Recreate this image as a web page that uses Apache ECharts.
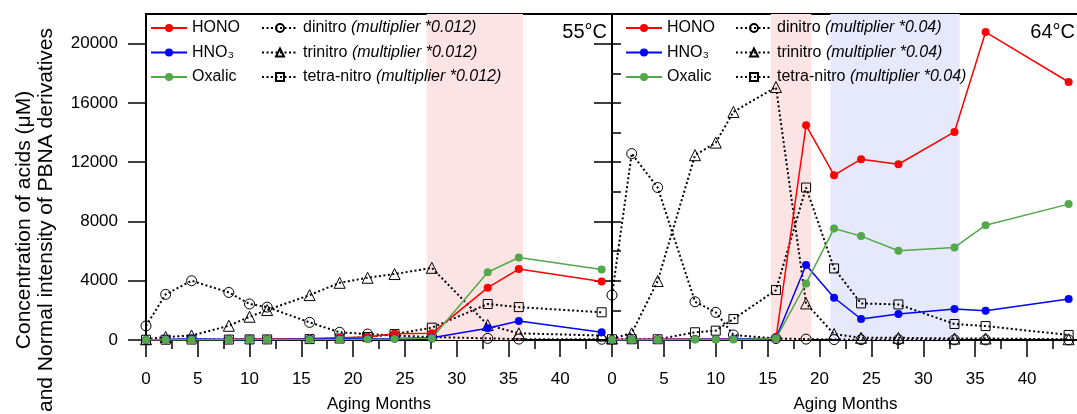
<!DOCTYPE html>
<html>
<head>
  <meta charset="UTF-8">
  <title>PBNA aging</title>
  <script src="https://cdn.jsdelivr.net/npm/echarts@6/dist/echarts.min.js"></script>
  <style>
    html, body { margin: 0; padding: 0; background: #fff; }
    #main { width: 1077px; height: 414px; }
  </style>
</head>
<body>
<div id="main"></div>
<script>
  // aging time (months), same sampling for both panels
  var months = [0, 1.9, 4.4, 8, 10, 11.7, 15.8, 18.7, 21.4, 24, 27.6, 33, 36, 44];

  // 55°C panel
  var hono55    = [0, 30, 40, 50, 60, 60, 100, 150, 200, 420, 450, 3530, 4790, 3950];
  var hno3_55   = [20, 30, 60, 40, 50, 30, 60, 80, 80, 100, 150, 800, 1280, 520];
  var oxalic55  = [10, 20, 20, 20, 30, 30, 40, 40, 50, 60, 120, 4570, 5570, 4760];
  var dinitro55 = [950, 3080, 4000, 3210, 2430, 2220, 1190, 520, 400, 300, 200, 110, 60, 50];
  var trinitro55 = [50, 200, 300, 960, 1570, 2020, 3030, 3860, 4200, 4450, 4870, 1010, 450, 300];
  var tetra55   = [20, 20, 30, 30, 40, 40, 60, 100, 200, 400, 830, 2430, 2220, 1870];

  // 64°C panel
  var hono64    = [30, 40, 50, 60, 60, 70, 100, 14490, 11120, 12200, 11860, 14040, 20780, 17410];
  var hno3_64   = [20, 30, 40, 50, 50, 60, 120, 5060, 2850, 1415, 1750, 2090, 1975, 2760];
  var oxalic64  = [10, 20, 20, 30, 30, 40, 100, 3820, 7530, 7010, 6020, 6250, 7750, 9170];
  var dinitro64 = [3030, 12580, 10290, 2580, 1865, 340, 100, 60, 30, 20, 20, 10, 10, 10];
  var trinitro64 = [100, 450, 3980, 12470, 13320, 15390, 17070, 2470, 400, 150, 150, 100, 100, 50];
  var tetra64   = [50, 50, 50, 520, 630, 1415, 3370, 10290, 4830, 2470, 2400, 1080, 940, 340];

  // shaded aging windows (months)
  var shade55 = [[27.1, 36.4]];
  var pink64 = [[15.3, 19.2]];
  var blue64 = [[21.05, 33.5]];

  var yMajor = [0, 4000, 8000, 12000, 16000, 20000];

  var FONT = "'Liberation Sans', Arial, sans-serif";

  function pairs(ys) {
    return months.map(function (m, i) { return [m, ys[i]]; });
  }

  function acid(name, color, ys, g) {
    return {
      name: name, type: 'line', xAxisIndex: g, yAxisIndex: g * 2,
      data: pairs(ys), symbol: 'circle', symbolSize: 8, z: 4,
      itemStyle: { color: color },
      lineStyle: { color: color, width: 1.5 }
    };
  }

  function pbna(name, sym, size, ys, g) {
    return {
      name: name, type: 'line', xAxisIndex: g, yAxisIndex: g * 2,
      data: pairs(ys), symbol: sym, symbolSize: size, z: 3,
      itemStyle: { color: 'rgba(0,0,0,0)', borderColor: '#000', borderWidth: 1 },
      lineStyle: { color: '#000', width: 2, type: [2, 2.5] }
    };
  }

  function shade(ranges, color, g) {
    return {
      type: 'line', xAxisIndex: g, yAxisIndex: g * 2, data: [], z: 1, silent: true,
      markArea: {
        silent: true,
        itemStyle: { color: color },
        data: ranges.map(function (r) { return [{ xAxis: r[0] }, { xAxis: r[1] }]; })
      }
    };
  }

  function xAxisFor(g) {
    return {
      gridIndex: g, type: 'value', min: 0, max: 45, interval: 5,
      name: 'Aging Months', nameLocation: 'middle', nameGap: 56,
      nameTextStyle: { fontSize: 17, color: '#000', fontFamily: FONT },
      axisLine: { lineStyle: { color: '#000', width: 2 } },
      axisTick: { length: 17, lineStyle: { color: '#000', width: 1.5 } },
      minorTick: { show: true, splitNumber: 2, length: 9, lineStyle: { color: '#000', width: 1.5 } },
      splitLine: { show: false },
      axisLabel: { margin: 31, fontSize: 17, color: '#000', fontFamily: FONT, showMaxLabel: false }
    };
  }

  function yAxesFor(g) {
    return [{
      gridIndex: g, type: 'value', min: 0, max: 22000, interval: 4000,
      axisLine: { show: true, lineStyle: { color: '#000', width: 2 } },
      axisTick: { show: true, length: 18, customValues: yMajor, lineStyle: { color: '#000', width: 1.5 } },
      splitLine: { show: false },
      axisLabel: {
        show: g === 0, customValues: yMajor, margin: 28, fontSize: 17, color: '#000', fontFamily: FONT,
        formatter: function (v) { return String(v); }
      }
    }, {
      gridIndex: g, type: 'value', min: 0, max: 22000, interval: 2000,
      axisLine: { show: false },
      axisTick: { show: true, length: 9, lineStyle: { color: '#000', width: 1.5 } },
      splitLine: { show: false },
      axisLabel: { show: false }
    }];
  }

  function legendFor(left, names, mult) {
    return {
      orient: 'vertical', left: left, top: 20, padding: 0,
      itemWidth: 36, itemHeight: 10, itemGap: 8.5,
      data: names,
      textStyle: {
        fontSize: 16, color: '#000', fontFamily: FONT,
        rich: { i: { fontSize: 16, color: '#000', fontStyle: 'italic', fontFamily: FONT } }
      },
      formatter: mult ? function (n) { return n + ' {i|(multiplier *' + mult + ')}'; } : '{name}'
    };
  }

  var myChart = echarts.init(document.getElementById('main'));

  var option = {
    backgroundColor: '#fff',
    animation: false,
    grid: [
      { left: 146, top: 14, width: 466, height: 326, outerBoundsMode: 'none', containLabel: false,
        show: true, borderColor: '#000', borderWidth: 2 },
      { left: 612, top: 14, width: 467, height: 326, outerBoundsMode: 'none', containLabel: false,
        show: true, borderColor: '#000', borderWidth: 2 }
    ],
    xAxis: [xAxisFor(0), xAxisFor(1)],
    yAxis: yAxesFor(0).concat(yAxesFor(1)),
    legend: [
      legendFor(150, ['HONO', 'HNO₃', 'Oxalic'], null),
      legendFor(261, ['dinitro', 'trinitro', 'tetra-nitro'], '0.012'),
      legendFor(625, ['HONO', 'HNO₃', 'Oxalic'], null),
      legendFor(735, ['dinitro', 'trinitro', 'tetra-nitro'], '0.04')
    ],
    graphic: [
      { type: 'text', x: 24, y: 220, rotation: Math.PI / 2,
        style: { text: 'Concentration of acids (μM)', fontSize: 21, fontFamily: FONT, fill: '#000', align: 'center', verticalAlign: 'middle' } },
      { type: 'text', x: 46, y: 220, rotation: Math.PI / 2,
        style: { text: 'and Normal intensity of PBNA derivatives', fontSize: 21, fontFamily: FONT, fill: '#000', align: 'center', verticalAlign: 'middle' } },
      { type: 'text', x: 607, y: 32,
        style: { text: '55°C', fontSize: 20, fontFamily: FONT, fill: '#000', align: 'right', verticalAlign: 'middle' } },
      { type: 'text', x: 1075, y: 32,
        style: { text: '64°C', fontSize: 20, fontFamily: FONT, fill: '#000', align: 'right', verticalAlign: 'middle' } }
    ],
    series: [
      shade(shade55, '#fde4e4', 0),
      shade(pink64, '#fde4e4', 1),
      shade(blue64, '#e6e8fb', 1),

      pbna('dinitro', 'circle', 10, dinitro55, 0),
      pbna('trinitro', 'triangle', 11, trinitro55, 0),
      pbna('tetra-nitro', 'rect', 9, tetra55, 0),
      acid('HONO', '#ff0000', hono55, 0),
      acid('HNO₃', '#0000ff', hno3_55, 0),
      acid('Oxalic', '#52a84a', oxalic55, 0),

      pbna('dinitro', 'circle', 10, dinitro64, 1),
      pbna('trinitro', 'triangle', 11, trinitro64, 1),
      pbna('tetra-nitro', 'rect', 9, tetra64, 1),
      acid('HONO', '#ff0000', hono64, 1),
      acid('HNO₃', '#0000ff', hno3_64, 1),
      acid('Oxalic', '#52a84a', oxalic64, 1)
    ]
  };

  myChart.setOption(option);
</script>
</body>
</html>
